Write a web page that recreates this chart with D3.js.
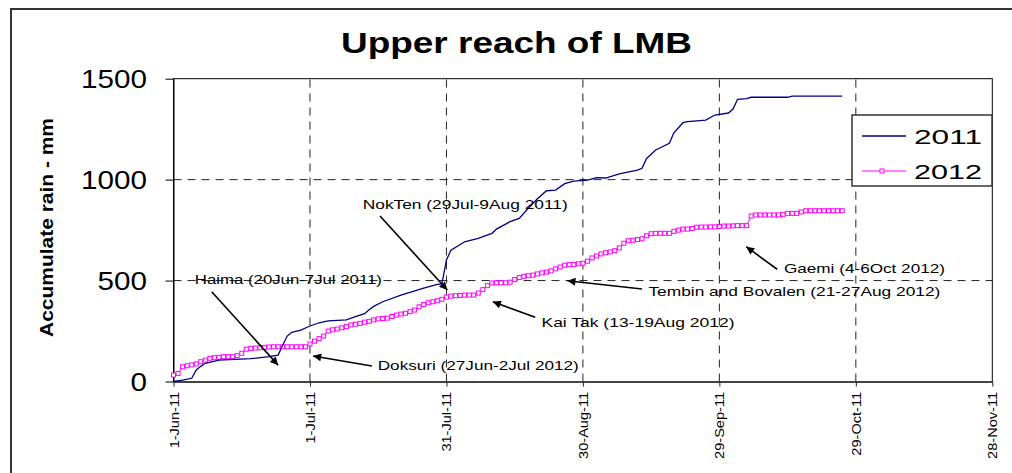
<!DOCTYPE html>
<html>
<head>
<meta charset="utf-8">
<script src="https://cdnjs.cloudflare.com/ajax/libs/d3/7.8.5/d3.min.js"></script>
<style>
  body { margin: 0; background: #fff; }
  svg { display: block; font-family: "Liberation Sans", Arial, sans-serif; }
</style>
</head>
<body>
<div id="chart"></div>
<script>
// days counted from 1 Jun; x tick every 30 days
var tickDays = [0, 30, 60, 90, 120, 150, 180];
var yTicks = [0, 500, 1000, 1500];
var gridY = [500, 1000];

// 2011 - accumulated rain (mm)
var days2011 = [0, 2, 4, 5, 6, 7, 10, 17, 21, 23, 24, 25, 26, 28, 30, 32, 34, 38, 40, 42, 43, 44, 46, 50, 55, 58, 59,
  60, 61, 64, 67, 70, 71, 74, 76, 78, 80, 82, 84, 86, 88, 91, 93, 95, 98, 102, 103, 104, 106, 109, 110, 112, 113,
  117, 119, 122, 123, 124, 126, 127, 135, 136, 147];
var rain2011 = [0, 7, 16, 57, 75, 90, 106, 113, 123, 131, 180, 225, 244, 255, 275, 291, 300, 305, 321, 336, 355, 372, 395, 428, 462, 481, 483,
  602, 651, 692, 709, 734, 755, 792, 808, 858, 905, 945, 948, 980, 993, 998, 1010, 1008, 1028, 1047, 1056, 1105, 1147, 1180, 1232, 1282, 1287,
  1295, 1320, 1330, 1350, 1398, 1401, 1408, 1408, 1414, 1414];

// 2012 - daily accumulated rain (mm), day 0 .. 147
var rain2012 = [32, 40, 73, 78, 82, 87, 98, 106, 115, 118, 120, 123, 123, 123, 128, 140, 160, 164, 166, 167,
  169, 171, 172, 172, 172, 172, 172, 172, 172, 172, 186, 200, 212, 225, 250, 256, 260, 266, 272, 280,
  284, 288, 294, 298, 305, 310, 312, 314, 322, 329, 334, 338, 346, 354, 370, 382, 390, 395, 400, 407,
  418, 423, 425, 426, 428, 428, 428, 438, 455, 475, 488, 489, 489, 489, 492, 505, 515, 521, 524, 527,
  533, 538, 542, 548, 558, 567, 576, 579, 580, 583, 586, 596, 612, 622, 632, 638, 642, 648, 662, 685,
  697, 700, 703, 707, 722, 732, 734, 734, 734, 734, 744, 750, 755, 755, 758, 764, 765, 765, 766, 766,
  768, 770, 770, 771, 772, 772, 772, 820, 825, 825, 825, 825, 825, 825, 828, 833, 833, 833, 840, 846,
  846, 846, 846, 846, 846, 846, 846, 846];

// typhoon notes: text anchor [day, mm], arrow from [day, mm] to [day, mm]
var noteText = ["Haima (20Jun-7Jul 2011)", "NokTen (29Jul-9Aug 2011)", "Doksuri (27Jun-2Jul 2012)",
  "Kai Tak (13-19Aug 2012)", "Tembin and Bovalen (21-27Aug 2012)", "Gaemi (4-6Oct 2012)"];
var noteAt = [[4.7, 485], [41.6, 855], [44.9, 57], [80.9, 271], [104.4, 425], [134.2, 536]];
var noteFrom = [[8.4, 445], [45.4, 820], [43.6, 77], [79.5, 318], [103.0, 458], [132.7, 556]];
var noteTo = [[23.0, 81], [60.2, 453], [30.7, 126], [70.2, 395], [86.6, 499], [125.9, 668]];
var noteWidth = [187, 205, 201, 193, 292, 161];

var W = 1012, H = 473;
var start = new Date(Date.UTC(2011, 5, 1));
function dayDate(d) { return new Date(start.getTime() + d * 864e5); }

var x = d3.scaleUtc().domain([start, dayDate(180)]).range([173.5, 992.3]);
var y = d3.scaleLinear().domain([0, 1500]).range([381.5, 78.7]);
var fmt = d3.utcFormat("%-d-%b-%y");

var svg = d3.select("#chart").append("svg").attr("width", W).attr("height", H);

svg.append("defs").append("marker")
  .attr("id", "arrow")
  .attr("markerUnits", "userSpaceOnUse")
  .attr("viewBox", "0 0 10 10")
  .attr("refX", 10).attr("refY", 5)
  .attr("markerWidth", 9).attr("markerHeight", 8)
  .attr("orient", "auto")
  .append("path").attr("d", "M0,0L10,5L0,10z").attr("fill", "#000");

function stretch(sel, k) {
  sel.each(function() {
    var w = this.getComputedTextLength();
    d3.select(this).attr("textLength", w * k).attr("lengthAdjust", "spacingAndGlyphs");
  });
}

// outer frame (runs past the right / bottom edge)
svg.append("rect").attr("x", 11).attr("y", 9).attr("width", 1010).attr("height", 470)
  .attr("fill", "none").attr("stroke", "#333").attr("stroke-width", 2);

svg.append("text")
  .attr("x", 516.5).attr("y", 53)
  .attr("text-anchor", "middle")
  .attr("font-size", 29).attr("font-weight", "bold")
  .attr("textLength", 351).attr("lengthAdjust", "spacingAndGlyphs")
  .text("Upper reach of LMB");

// grid
var grid = svg.append("g").attr("stroke", "#222").attr("stroke-dasharray", "8,6").attr("stroke-width", 1);
grid.selectAll("line.gx")
  .data(tickDays.slice(1, -1))
  .enter().append("line")
  .attr("x1", d => x(dayDate(d))).attr("x2", d => x(dayDate(d)))
  .attr("y1", y(0)).attr("y2", y(1500));
grid.selectAll("line.gy")
  .data(gridY)
  .enter().append("line")
  .attr("x1", x(dayDate(0))).attr("x2", x(dayDate(180)))
  .attr("y1", d => y(d)).attr("y2", d => y(d));

// plot frame
svg.append("rect")
  .attr("x", x(dayDate(0))).attr("y", y(1500))
  .attr("width", x(dayDate(180)) - x(dayDate(0))).attr("height", y(0) - y(1500))
  .attr("fill", "none").attr("stroke", "#000").attr("stroke-width", 1);

// axes
var xAxis = svg.append("g")
  .attr("transform", "translate(0," + y(0) + ")")
  .call(d3.axisBottom(x).tickValues(tickDays.map(dayDate)).tickFormat(fmt).tickSize(5).tickSizeOuter(0));
xAxis.select(".domain").attr("stroke", "#444").attr("stroke-width", 2);
xAxis.selectAll(".tick line").attr("stroke", "#222");
xAxis.selectAll("text")
  .attr("transform", "rotate(-90)")
  .attr("text-anchor", "end")
  .attr("x", -10.5).attr("y", 4.5).attr("dy", 0)
  .attr("font-size", 13).attr("fill", "#000")
  .attr("font-family", "'Liberation Sans', Arial, sans-serif")
  .call(stretch, 1.12);

var yAxis = svg.append("g")
  .attr("transform", "translate(" + x(dayDate(0)) + ",0)")
  .call(d3.axisLeft(y).tickValues(yTicks).tickFormat(d3.format("d")).tickSize(8).tickSizeOuter(0));
yAxis.select(".domain").attr("stroke", "#000");
yAxis.selectAll(".tick line").attr("stroke", "#000");
yAxis.selectAll("text")
  .attr("x", -26.5).attr("dy", 8.6)
  .attr("font-size", 26).attr("fill", "#000")
  .attr("font-family", "'Liberation Sans', Arial, sans-serif")
  .call(stretch, 1.14);

svg.append("text")
  .attr("transform", "translate(53,227.5) rotate(-90)")
  .attr("text-anchor", "middle")
  .attr("font-size", 19).attr("font-weight", "bold")
  .attr("textLength", 219).attr("lengthAdjust", "spacingAndGlyphs")
  .text("Accumulate rain - mm");

// series
var line = d3.line().x(d => x(dayDate(d[0]))).y(d => y(d[1]));
var s2011 = days2011.map((d, i) => [d, rain2011[i]]);
var s2012 = rain2012.map((v, i) => [i, v]);

svg.append("path").datum(s2012)
  .attr("d", line).attr("fill", "none")
  .attr("stroke", "#ff00ff").attr("stroke-width", 1);
svg.selectAll("rect.m12")
  .data(s2012)
  .enter().append("rect")
  .attr("class", "m12")
  .attr("x", d => x(dayDate(d[0])) - 2).attr("y", d => y(d[1]) - 2)
  .attr("width", 4).attr("height", 4)
  .attr("fill", "#fff").attr("stroke", "#ff00ff").attr("stroke-width", 1);

svg.append("path").datum(s2011)
  .attr("d", line).attr("fill", "none")
  .attr("stroke", "#000080").attr("stroke-width", 1.3);

// notes
var notes = svg.append("g").attr("class", "notes");
notes.selectAll("line")
  .data(noteFrom)
  .enter().append("line")
  .attr("x1", d => x(dayDate(d[0]))).attr("y1", d => y(d[1]))
  .attr("x2", (d, i) => x(dayDate(noteTo[i][0]))).attr("y2", (d, i) => y(noteTo[i][1]))
  .attr("stroke", "#000").attr("stroke-width", 1.6)
  .attr("marker-end", "url(#arrow)");
notes.selectAll("text")
  .data(noteText)
  .enter().append("text")
  .attr("x", (d, i) => x(dayDate(noteAt[i][0])))
  .attr("y", (d, i) => y(noteAt[i][1]))
  .attr("font-size", 13.5)
  .attr("textLength", (d, i) => noteWidth[i]).attr("lengthAdjust", "spacingAndGlyphs")
  .text(d => d);

// legend
var legend = svg.append("g");
legend.append("rect").attr("x", 852).attr("y", 115).attr("width", 140).attr("height", 71)
  .attr("fill", "#fff").attr("stroke", "#333").attr("stroke-width", 1.5);
var legendNames = ["2011", "2012"];
var legendColors = ["#000080", "#ff00ff"];
var items = legend.selectAll("g.item")
  .data(legendNames)
  .enter().append("g")
  .attr("class", "item")
  .attr("transform", (d, i) => "translate(0," + (136 + i * 35) + ")");
items.append("line").attr("x1", 862).attr("x2", 906)
  .attr("stroke", (d, i) => legendColors[i]).attr("stroke-width", (d, i) => i ? 1 : 1.3);
items.filter((d, i) => i === 1).append("rect")
  .attr("x", 880).attr("y", -2).attr("width", 4).attr("height", 4)
  .attr("fill", "#fff").attr("stroke", "#ff00ff");
items.append("text").attr("x", 914).attr("y", 7.5)
  .attr("font-size", 21)
  .attr("textLength", 68).attr("lengthAdjust", "spacingAndGlyphs")
  .text(d => d);
</script>
</body>
</html>
